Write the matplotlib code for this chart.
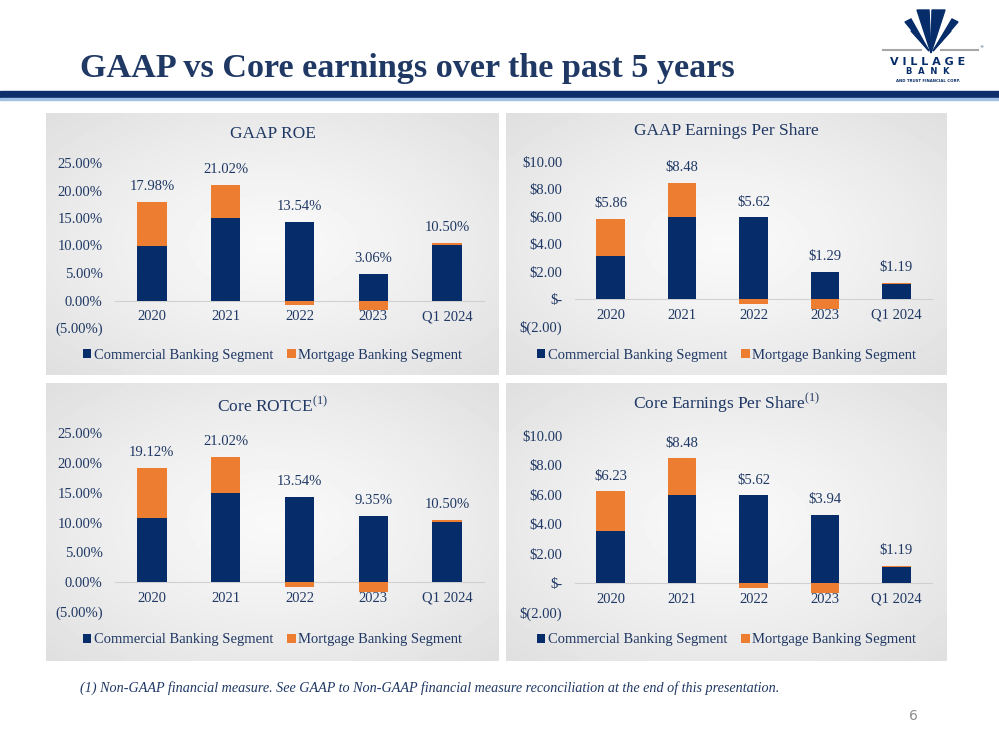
import numpy as np
import matplotlib
matplotlib.use("Agg")
import matplotlib.pyplot as plt
from matplotlib.patches import Rectangle, Polygon
from matplotlib.ticker import FuncFormatter

# data
categories = ["2020", "2021", "2022", "2023", "Q1 2024"]
series_names = ["Commercial Banking Segment", "Mortgage Banking Segment"]

roe_commercial = [9.90, 15.00, 14.30, 4.80, 10.05]
roe_mortgage = [8.08, 6.02, -0.76, -1.74, 0.45]
roe_total = [17.98, 21.02, 13.54, 3.06, 10.50]

eps_commercial = [3.15, 6.00, 5.96, 2.00, 1.10]
eps_mortgage = [2.71, 2.48, -0.34, -0.71, 0.09]
eps_total = [5.86, 8.48, 5.62, 1.29, 1.19]

rotce_commercial = [10.80, 15.00, 14.30, 11.05, 10.05]
rotce_mortgage = [8.32, 6.02, -0.76, -1.70, 0.45]
rotce_total = [19.12, 21.02, 13.54, 9.35, 10.50]

core_eps_commercial = [3.55, 6.00, 5.96, 4.65, 1.10]
core_eps_mortgage = [2.68, 2.48, -0.34, -0.71, 0.09]
core_eps_total = [6.23, 8.48, 5.62, 3.94, 1.19]

NAVY = "#062d6a"
ORANGE = "#ed7d31"
TEXT = "#1f3864"
W, H = 999, 750

plt.rcParams["font.family"] = ["Liberation Serif", "DejaVu Serif"]
plt.rcParams["mathtext.fontset"] = "custom"
plt.rcParams["mathtext.rm"] = "Liberation Serif"

fig = plt.figure(figsize=(W / 100, H / 100), dpi=100)
fig.patch.set_facecolor("white")

# background axes in pixel coordinates
bg = fig.add_axes([0, 0, 1, 1])
bg.set_xlim(0, W)
bg.set_ylim(H, 0)
bg.axis("off")


def frac(left, top, right, bottom):
    return [left / W, 1 - bottom / H, (right - left) / W, (bottom - top) / H]


def panel_bg(left, top, right, bottom):
    ny, nx = 60, 100
    yy, xx = np.mgrid[-1:1:ny * 1j, -1:1:nx * 1j]
    r = np.sqrt(xx ** 2 + yy ** 2) / np.sqrt(2)
    img = 0.975 - 0.10 * r ** 1.3
    bg.imshow(img, cmap="gray", vmin=0, vmax=1, extent=(left, right, bottom, top),
              aspect="auto", interpolation="bilinear", zorder=1)


# header
bg.text(80, 68, "GAAP vs Core earnings over the past 5 years", fontsize=24.6,
        fontweight="bold", color=TEXT, va="center", ha="left")
bg.add_patch(Rectangle((0, 91), W, 7, color="#0d2f6b", zorder=2))
bg.add_patch(Rectangle((0, 98), W, 2, color="#9fc1e4", zorder=2))

# logo (rough)
bg.add_patch(Polygon([(917, 10), (929, 10), (931, 53)], color=NAVY, zorder=3))
bg.add_patch(Polygon([(932, 10), (945, 10), (931, 53)], color=NAVY, zorder=3))
bg.add_patch(Polygon([(905, 22), (911, 19), (929, 51)], color=NAVY, zorder=3))
bg.add_patch(Polygon([(952, 19), (958, 22), (933, 51)], color=NAVY, zorder=3))
bg.add_patch(Polygon([(911, 31), (915, 29), (929, 51)], color=NAVY, zorder=3))
bg.add_patch(Polygon([(947, 29), (951, 31), (933, 51)], color=NAVY, zorder=3))
bg.plot([883, 921], [50, 50], color="#a6a6a6", lw=1.5, zorder=3)
bg.plot([941, 978], [50, 50], color="#a6a6a6", lw=1.5, zorder=3)
bg.text(981, 47, "®", fontsize=3, color=NAVY, ha="center", va="center",
        family="DejaVu Sans")
bg.text(928, 62, "V I L L A G E", fontsize=8, fontweight="bold", color=NAVY,
        ha="center", va="center", family="DejaVu Sans")
bg.text(928, 72, "B  A  N  K", fontsize=6, fontweight="bold", color=NAVY,
        ha="center", va="center", family="DejaVu Sans")
bg.text(928, 81, "AND TRUST FINANCIAL CORP.", fontsize=2.8, fontweight="bold",
        color=NAVY, ha="center", va="center", family="DejaVu Sans")


def pct_fmt(v, pos):
    if abs(v) < 1e-9:
        return "0.00%"
    if v < 0:
        return "({:.2f}%)".format(-v)
    return "{:.2f}%".format(v)


def usd_fmt(v, pos):
    if abs(v) < 1e-9:
        return "\\$-"
    if v < 0:
        return "\\$({:.2f})".format(-v)
    return "\\${:.2f}".format(v)


def draw_panel(box, axbox, ylim, step, title, comm, mort, totals, fmt, label_fmt,
               title_y, legend_y):
    left, top, right, bottom = box
    panel_bg(left, top, right, bottom)
    ax = fig.add_axes(frac(*axbox))
    ax.patch.set_alpha(0)
    x = np.arange(len(categories))
    comm = np.array(comm)
    mort = np.array(mort)
    mort_bottom = np.where(mort >= 0, comm, 0)
    ax.bar(x, comm, width=0.4, color=NAVY, label=series_names[0], zorder=3)
    ax.bar(x, mort, width=0.4, bottom=mort_bottom, color=ORANGE,
           label=series_names[1], zorder=3)
    ax.set_xlim(-0.5, len(categories) - 0.5)
    ax.set_ylim(*ylim)
    ax.set_yticks(np.arange(ylim[0], ylim[1] + step / 2, step))
    ax.yaxis.set_major_formatter(FuncFormatter(fmt))
    ax.set_xticks(x)
    ax.set_xticklabels(categories)
    for s in ["top", "right", "left"]:
        ax.spines[s].set_visible(False)
    ax.spines["bottom"].set_position(("data", 0))
    ax.spines["bottom"].set_color("#d0d0d0")
    ax.spines["bottom"].set_zorder(2)
    ax.tick_params(axis="both", length=0, labelsize=10.5, labelcolor=TEXT)
    ax.tick_params(axis="y", pad=9)
    ax.tick_params(axis="x", pad=7)
    tops = comm + np.clip(mort, 0, None)
    for xi, t, lab in zip(x, tops, totals):
        ax.annotate(label_fmt(lab), (xi, t), xytext=(0, 11), textcoords="offset points",
                    ha="center", va="center", fontsize=10.5, color=TEXT)
    cx = (left + right) / 2
    bg.text(cx, title_y, title, fontsize=12.5, color=TEXT, ha="center", va="center",
            zorder=5)
    ax.legend(loc="center", bbox_to_anchor=(cx / W, 1 - legend_y / H),
              bbox_transform=fig.transFigure, ncol=2, frameon=False, fontsize=10.5,
              handlelength=0.6, handleheight=0.6, handletextpad=0.2,
              columnspacing=0.9, labelcolor=TEXT)
    return ax


pct_label = lambda v: "{:.2f}%".format(v)
usd_label = lambda v: "\\${:.2f}".format(v)

draw_panel((46, 113, 499, 375), (115, 163, 484, 328), (-5, 25), 5, "GAAP ROE",
           roe_commercial, roe_mortgage, roe_total, pct_fmt, pct_label, 134, 355)
draw_panel((506, 113, 947, 375), (575, 162, 932, 326.4), (-2, 10), 2,
           "GAAP Earnings Per Share",
           eps_commercial, eps_mortgage, eps_total, usd_fmt, usd_label, 131, 355)
draw_panel((46, 383, 499, 661), (115, 433, 484, 612), (-5, 25), 5,
           "Core ROTCE$^{(1)}$",
           rotce_commercial, rotce_mortgage, rotce_total, pct_fmt, pct_label, 406, 640)
draw_panel((506, 383, 947, 661), (575, 436, 932, 612.4), (-2, 10), 2,
           "Core Earnings Per Share$^{(1)}$",
           core_eps_commercial, core_eps_mortgage, core_eps_total, usd_fmt, usd_label,
           404, 640)

# footnote and page number
bg.text(80, 688, "(1) Non-GAAP financial measure. See GAAP to Non-GAAP financial "
        "measure reconciliation at the end of this presentation.",
        fontsize=10.2, style="italic", color=TEXT, ha="left", va="center")
bg.text(913, 716, "6", fontsize=10, color="#8c8c8c", ha="center", va="center",
        family="DejaVu Sans")

fig.savefig("out.png", dpi=100)
